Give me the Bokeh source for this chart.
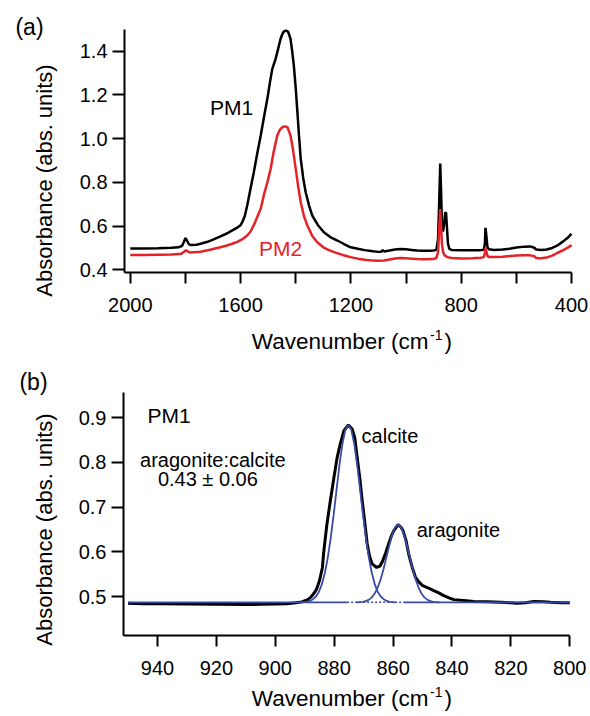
from bokeh.plotting import figure
from bokeh.models import Range1d, FixedTicker, PrintfTickFormatter, Label, LinearAxis, Grid
from bokeh.layouts import column
from bokeh.embed import file_html
from bokeh.resources import INLINE
import math

FONT = "Liberation Sans"
BLACK = "#000000"
RED = "#e42228"
BLUE = "#3a4ba6"

# ---------------- panel (a) data ----------------
pm1_wn = [2000, 1950, 1900, 1850, 1825, 1812, 1805, 1800, 1795, 1788, 1780, 1760, 1745, 1720,
          1700, 1673, 1650, 1630, 1612, 1600, 1594, 1585, 1576, 1565, 1552, 1540, 1527, 1515,
          1503, 1493, 1485, 1473, 1465, 1455, 1448, 1443, 1435, 1428, 1419, 1413, 1407, 1400,
          1394, 1388, 1382, 1373, 1364, 1352, 1340, 1320, 1298, 1275, 1249, 1225, 1201, 1175,
          1150, 1120, 1100, 1090, 1085, 1080, 1060, 1040, 1020, 1000, 980, 960, 940, 920, 900,
          890, 884, 880, 876, 873, 870, 866, 862, 858, 855, 852, 848, 843, 835, 800, 760, 730,
          718, 714, 712, 709, 705, 700, 680, 650, 620, 600, 570, 550, 535, 528, 510, 490, 470,
          450, 430, 415, 400]
pm1_abs = [0.498, 0.498, 0.499, 0.501, 0.503, 0.510, 0.530, 0.545, 0.535, 0.518, 0.513, 0.515,
           0.519, 0.528, 0.538, 0.553, 0.566, 0.580, 0.593, 0.604, 0.618, 0.645, 0.694, 0.765,
           0.846, 0.930, 1.014, 1.100, 1.182, 1.262, 1.319, 1.365, 1.405, 1.457, 1.480, 1.490,
           1.494, 1.490, 1.457, 1.400, 1.335, 1.230, 1.121, 1.010, 0.908, 0.820, 0.755, 0.695,
           0.648, 0.605, 0.572, 0.550, 0.534, 0.518, 0.503, 0.496, 0.490, 0.485, 0.482, 0.483,
           0.490, 0.484, 0.488, 0.493, 0.495, 0.494, 0.491, 0.488, 0.487, 0.487, 0.488, 0.491,
           0.540, 0.700, 0.886, 0.760, 0.620, 0.575, 0.610, 0.660, 0.662, 0.600, 0.520, 0.496,
           0.491, 0.489, 0.489, 0.490, 0.492, 0.520, 0.592, 0.560, 0.505, 0.494, 0.491, 0.493,
           0.497, 0.502, 0.506, 0.507, 0.501, 0.493, 0.491, 0.493, 0.500, 0.512, 0.530, 0.545,
           0.564]

pm2_wn = [2000, 1950, 1900, 1850, 1815, 1805, 1798, 1792, 1785, 1760, 1745, 1720, 1700, 1673,
          1650, 1630, 1612, 1595, 1576, 1564, 1550, 1540, 1527, 1515, 1503, 1491, 1480, 1467,
          1458, 1449, 1440, 1430, 1419, 1410, 1400, 1391, 1382, 1370, 1358, 1340, 1322, 1300,
          1280, 1261, 1230, 1201, 1175, 1150, 1120, 1100, 1080, 1060, 1040, 1020, 1000, 980,
          960, 940, 920, 900, 890, 884, 880, 876, 873, 870, 866, 860, 850, 835, 800, 760, 730,
          718, 714, 712, 709, 705, 700, 680, 650, 620, 600, 570, 550, 535, 528, 510, 490, 470,
          450, 430, 415, 400]
pm2_abs = [0.468, 0.468, 0.469, 0.470, 0.473, 0.483, 0.490, 0.484, 0.479, 0.481, 0.483, 0.489,
           0.495, 0.503, 0.511, 0.519, 0.528, 0.539, 0.557, 0.575, 0.610, 0.640, 0.679, 0.745,
           0.800, 0.862, 0.940, 1.014, 1.040, 1.052, 1.056, 1.052, 1.014, 0.950, 0.862, 0.780,
           0.709, 0.645, 0.603, 0.555, 0.526, 0.503, 0.490, 0.481, 0.468, 0.458, 0.451, 0.446,
           0.442, 0.441, 0.443, 0.447, 0.452, 0.454, 0.453, 0.451, 0.449, 0.448, 0.448, 0.449,
           0.455, 0.480, 0.580, 0.678, 0.600, 0.520, 0.482, 0.466, 0.458, 0.454, 0.452, 0.453,
           0.455, 0.458, 0.478, 0.500, 0.485, 0.465, 0.458, 0.458, 0.460, 0.463, 0.465, 0.467,
           0.466, 0.462, 0.454, 0.453, 0.456, 0.465, 0.478, 0.490, 0.500, 0.513]

# ---------------- panel (b) data ----------------
zoom_wn = [950, 945, 940, 930, 920, 910, 905, 900, 896, 893, 891, 889, 888, 887, 886, 885, 884,
           883.5, 882.5, 881.3, 880, 879, 878, 876.7, 875.2, 873.9, 873, 872.2, 871.3, 870.5,
           869.6, 868.8, 868, 867.1, 865.6, 864.5, 863.7, 862.5, 861.5, 860.5, 859.8, 858.3,
           857.3, 856.6, 855.6, 854.7, 853.5, 852.4, 851.2, 850.1, 848, 846.2, 844.5, 842.8,
           841, 839.4, 836, 832.6, 828, 823.5, 820, 817.9, 815, 812.2, 809, 806.5, 803, 800]
zoom_abs = [0.485, 0.484, 0.4835, 0.483, 0.4825, 0.482, 0.4825, 0.483, 0.484, 0.486, 0.488,
            0.493, 0.498, 0.506, 0.516, 0.535, 0.565, 0.603, 0.660, 0.715, 0.770, 0.811, 0.840,
            0.871, 0.884, 0.875, 0.855, 0.811, 0.765, 0.715, 0.665, 0.618, 0.590, 0.573, 0.565,
            0.568, 0.577, 0.598, 0.618, 0.637, 0.647, 0.661, 0.655, 0.647, 0.625, 0.595, 0.565,
            0.543, 0.532, 0.525, 0.519, 0.513, 0.508, 0.502, 0.497, 0.493, 0.491, 0.489, 0.488,
            0.487, 0.486, 0.485, 0.486, 0.489, 0.488, 0.487, 0.486, 0.486]

calcite_wn = [891.2, 889.2, 888.2, 887.2, 886.2, 885.2, 884.2, 883.2, 882.2, 881.2, 880.2, 879.2,
              878.2, 877.2, 876.2, 875.2, 874.2, 873.2, 872.2, 871.2, 870.2, 869.2, 868.2, 867.2,
              866.2, 865.2, 864.2, 863.2, 862.2, 861.2, 859.2]
calcite_abs = [0.487, 0.488, 0.490, 0.494, 0.500, 0.510, 0.527, 0.552, 0.586, 0.630, 0.682, 0.739,
               0.795, 0.842, 0.873, 0.884, 0.873, 0.842, 0.795, 0.739, 0.682, 0.630, 0.586, 0.552,
               0.527, 0.510, 0.500, 0.494, 0.490, 0.488, 0.487]

aragonite_wn = [872.3, 870.3, 869.3, 868.3, 867.3, 866.3, 865.3, 864.3, 863.3, 862.3, 861.3, 860.3,
                859.3, 858.3, 857.3, 856.3, 855.3, 854.3, 853.3, 852.3, 851.3, 850.3, 849.3,
                848.3, 847.3, 846.3, 844.3]
aragonite_abs = [0.487, 0.488, 0.4896, 0.4924, 0.4975, 0.506, 0.519, 0.537, 0.560, 0.587, 0.614,
                 0.639, 0.655, 0.661, 0.655, 0.639, 0.614, 0.587, 0.560, 0.537, 0.519, 0.506,
                 0.4975, 0.4924, 0.4896, 0.488, 0.487]

base_left_wn = [950, 875.6]
base_dot_wn = [875.6, 856.4]
base_right_wn = [856.4, 800]
base_level = 0.487

top_x_major = [2000, 1600, 1200, 800, 400]
top_x_minor = [1800, 1400, 1000, 600]
top_y_ticks = [0.4, 0.6, 0.8, 1.0, 1.2, 1.4]
bot_x_ticks = [940, 920, 900, 880, 860, 840, 820, 800]
bot_y_ticks = [0.5, 0.6, 0.7, 0.8, 0.9]

W = 590
H1 = 356
H2 = 360


def make_fig(h, xr, yr):
    p = figure(width=W, height=h, output_backend="svg", toolbar_location=None, title=None,
               x_range=Range1d(*xr), y_range=Range1d(*yr),
               x_axis_location=None, y_axis_location=None, min_border=0)
    p.outline_line_color = None
    p.center = [r for r in p.center if not isinstance(r, Grid)]
    return p


def make_axes(p, x_fixed, x_bounds, xticker, x_standoff, y_fixed, y_bounds, yticker):
    xa = LinearAxis(fixed_location=x_fixed, bounds=x_bounds, ticker=xticker,
                    formatter=PrintfTickFormatter(format="%d"))
    ya = LinearAxis(fixed_location=y_fixed, bounds=y_bounds, ticker=yticker,
                    formatter=PrintfTickFormatter(format="%.1f"))
    for ax in (xa, ya):
        ax.axis_line_width = 2
        ax.axis_line_color = BLACK
        ax.major_tick_line_width = 2
        ax.major_tick_line_color = BLACK
        ax.major_tick_in = 0
        ax.major_label_text_font = FONT
        ax.major_label_text_font_size = "20px"
        ax.major_label_text_color = BLACK
        ax.minor_tick_line_color = None
    xa.major_tick_out = 11
    ya.major_tick_out = 12
    xa.major_label_standoff = x_standoff
    ya.major_label_standoff = 5
    p.add_layout(xa, "below")
    p.add_layout(ya, "left")
    return xa, ya


def add_text(p, x, y, text, size, color=BLACK, align="left", baseline="alphabetic",
             angle=0.0, units="screen"):
    p.add_layout(Label(x=x, y=y, x_units=units, y_units=units, text=text, angle=angle,
                       text_align=align, text_baseline=baseline, text_font=FONT,
                       text_font_size=size, text_color=color))


def add_titles(p, h, top, xt_base, yt_center, panel_text, panel_center):
    # page coordinates -> screen units (from the frame's bottom-left)
    ys = h - (xt_base - top) + 8
    add_text(p, 428, ys, "Wavenumber (cm", "22.5px", align="right")
    add_text(p, 429.5, ys + 6.2, "-1", "14px")
    add_text(p, 444, ys, ")", "22.5px")
    add_text(p, 43.5, h - (yt_center - top), "Absorbance (abs. units)", "22px",
             align="center", angle=math.pi / 2)
    add_text(p, panel_center[0], h - (panel_center[1] - top) + 2, panel_text, "23px",
             align="center", baseline="middle")


# ---------------- panel (a) ----------------
p1 = make_fig(H1, (2470.7, 331.1), (0.0034, 1.6319))
xa1, ya1 = make_axes(p1, 0.3863, (400, 2021), FixedTicker(ticks=top_x_major, minor_ticks=top_x_minor),
                     14, 2021, (0.3863, 1.498), FixedTicker(ticks=top_y_ticks))
xa1.minor_tick_line_color = BLACK
xa1.minor_tick_line_width = 2
xa1.minor_tick_in = 0
xa1.minor_tick_out = 11

p1.line(pm1_wn, pm1_abs, line_color=BLACK, line_width=2.5)
p1.line(pm2_wn, pm2_abs, line_color=RED, line_width=2.5)

add_text(p1, 1633, 1.1406, "PM1", "21px", align="center", units="data")
add_text(p1, 1455, 0.4956, "PM2", "21px", color=RED, align="center", units="data")
add_titles(p1, H1, 0, 349, 180, "(a)", (29, 28))

# ---------------- panel (b) ----------------
p2 = make_fig(H2, (993.31, 792.97), (0.2314, 1.0372))
make_axes(p2, 0.4127, (800, 951.55), FixedTicker(ticks=bot_x_ticks), 14,
          951.55, (0.4127, 0.9566), FixedTicker(ticks=bot_y_ticks))

p2.line(zoom_wn, zoom_abs, line_color=BLACK, line_width=3)
p2.line(base_left_wn, [base_level, base_level], line_color=BLUE, line_width=1.8)
p2.line(base_right_wn, [base_level, base_level], line_color=BLUE, line_width=1.8)
p2.line(base_dot_wn, [base_level, base_level], line_color=BLUE, line_width=1.6, line_dash="2 2")
p2.line(calcite_wn, calcite_abs, line_color=BLUE, line_width=1.8)
p2.line(aragonite_wn, aragonite_abs, line_color=BLUE, line_width=1.8)

add_text(p2, 936.1, 0.906, "PM1", "21px", align="center", units="data")
add_text(p2, 921.2, 0.8051, "aragonite:calcite", "20px", align="center", units="data")
add_text(p2, 922.9, 0.7641, "0.43 \u00b1 0.06", "20px", align="center", units="data")
add_text(p2, 870.7, 0.8601, "calcite", "20px", units="data")
add_text(p2, 852.0, 0.6481, "aragonite", "20px", units="data")
add_titles(p2, H2, H1, 706, 529, "(b)", (33, 383))

layout = column(p1, p2)
open("out.html", "w").write(file_html(layout, INLINE))
